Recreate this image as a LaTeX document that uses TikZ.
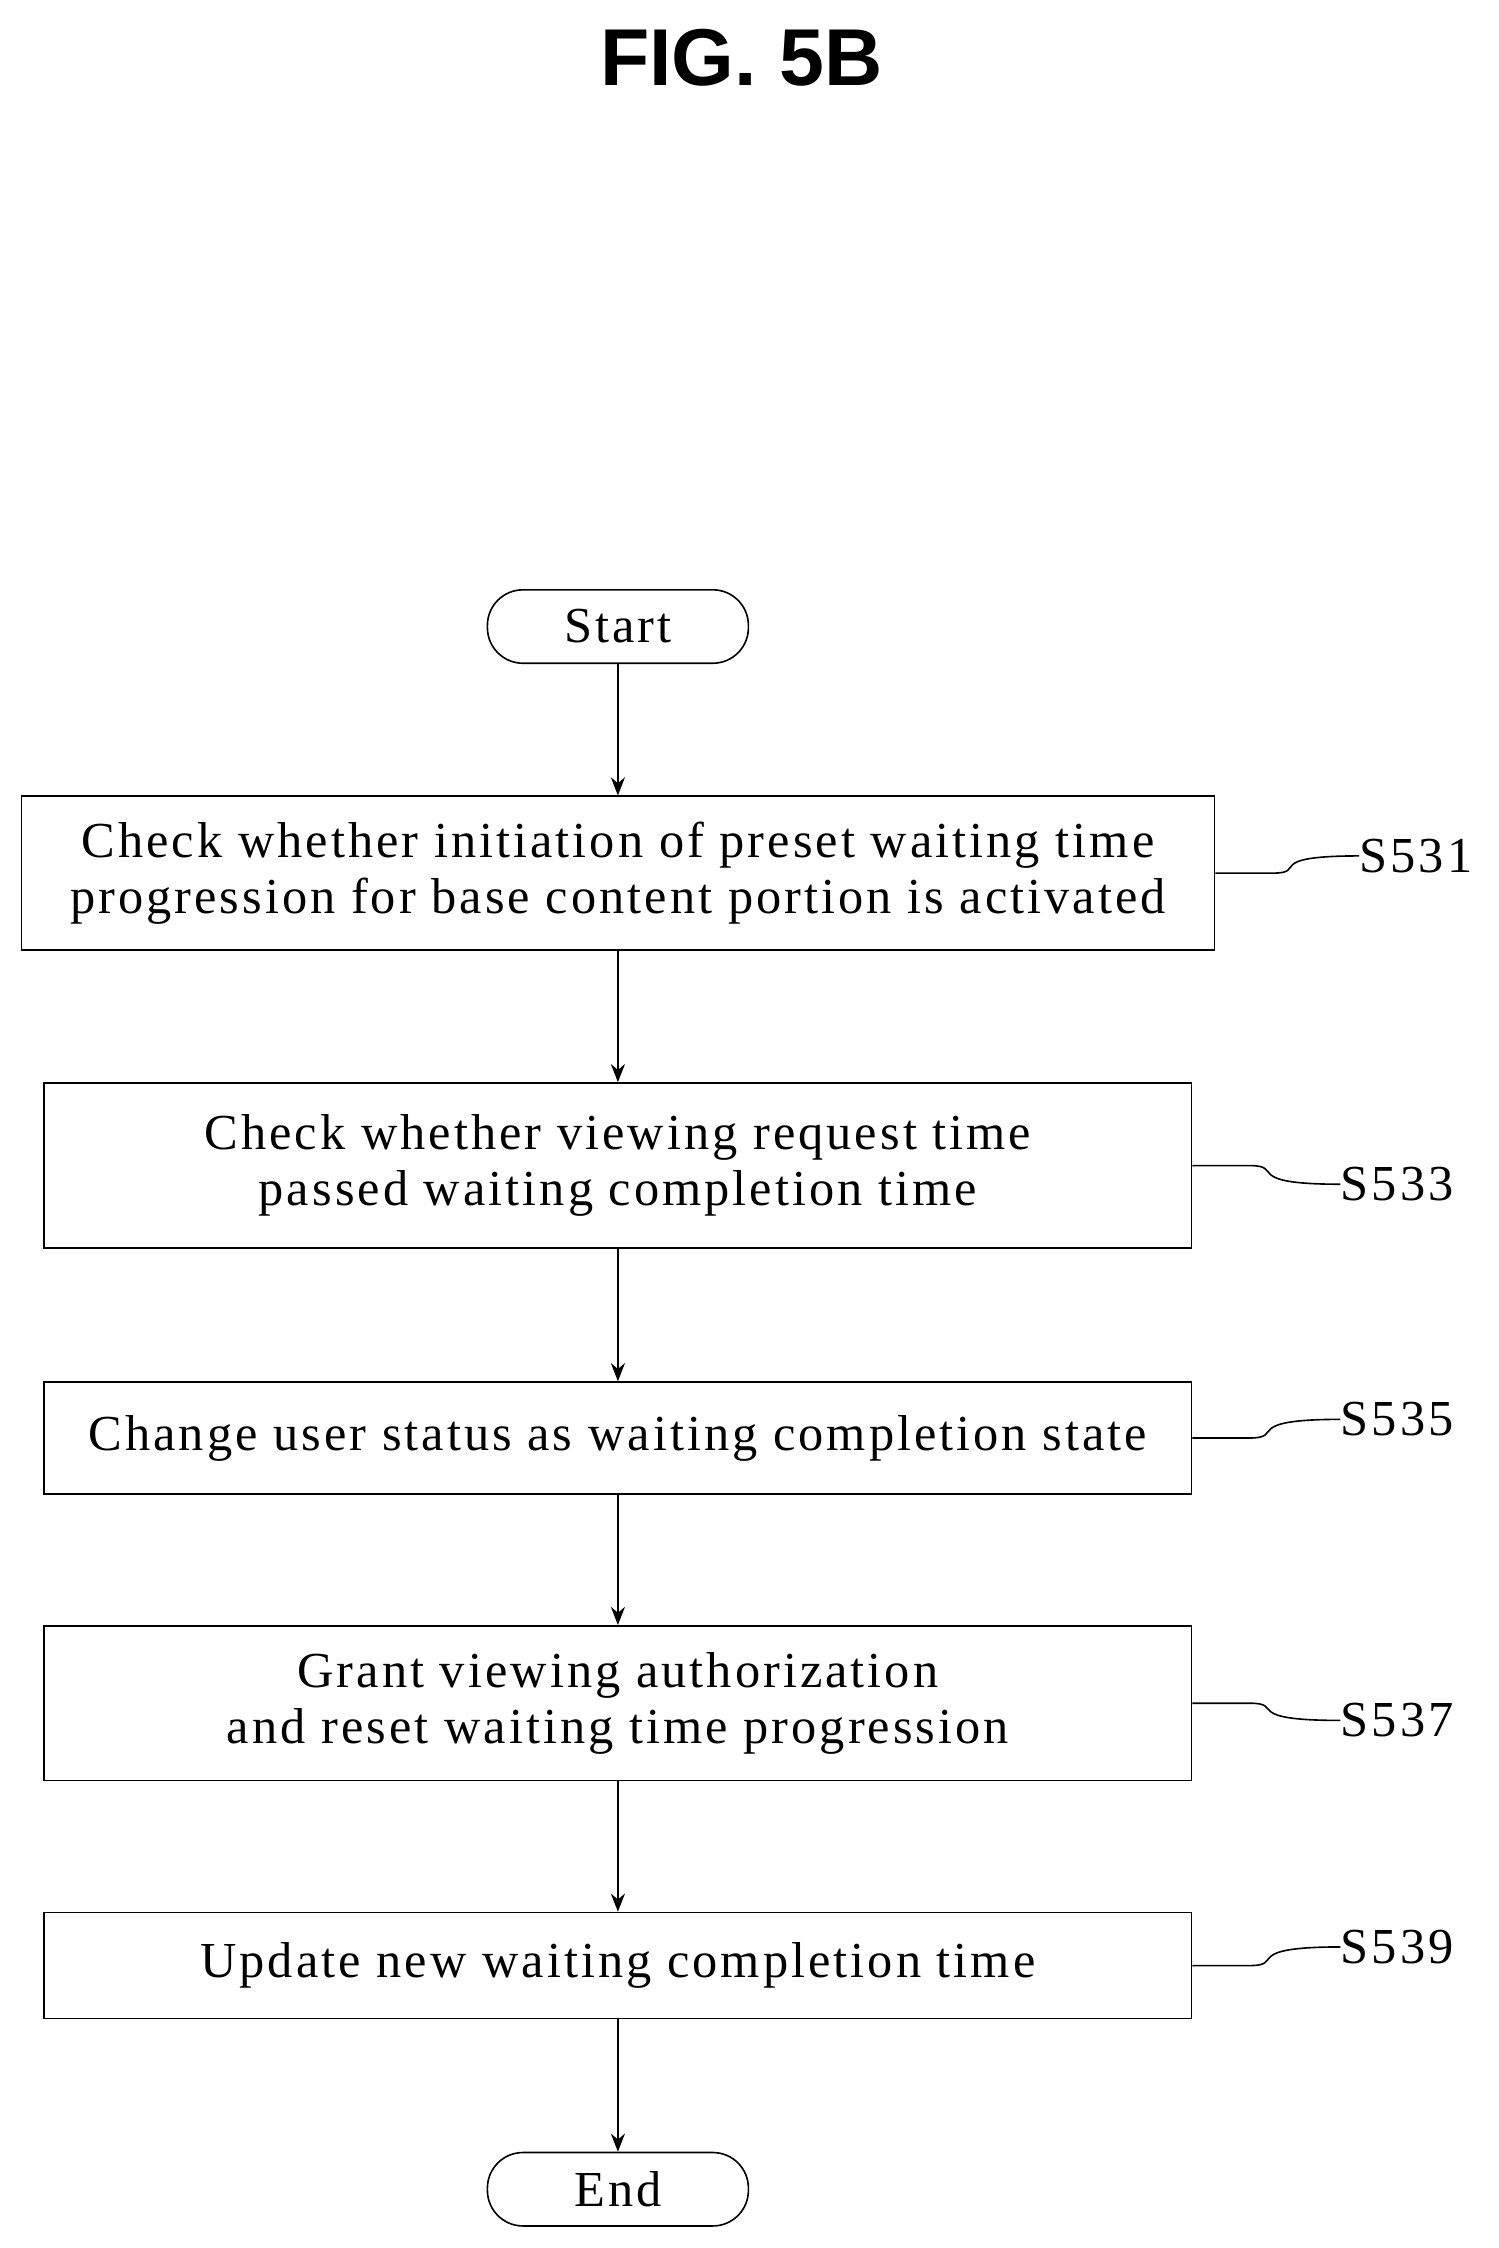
\documentclass[tikz,border=0pt]{standalone}
\usepackage{fontspec}
\setmainfont{Liberation Serif}[LetterSpace=6]
\newfontfamily\titlefont{Liberation Sans}
\usetikzlibrary{positioning,arrows.meta}
\tikzset{
  step/.style={draw, thick, minimum height=#1, align=center, font=\fontsize{25}{28}\selectfont},
  term/.style={draw, thick, rounded corners=0.62cm, minimum width=4.55cm, minimum height=1.28cm, font=\fontsize{25}{28}\selectfont},
  flow/.style={thick, -{Stealth[length=9pt,width=7pt]}},
  tag/.style={font=\fontsize{25}{28}\selectfont, anchor=west, inner sep=0pt}
}
\begin{document}
\begin{tikzpicture}[x=0.025cm, y=-0.025cm]
    \useasboundingbox (0,0) rectangle (1045,1568);
    \node[font=\titlefont\bfseries\fontsize{40}{44}\selectfont] (title) at (517,40) {FIG.\ 5B};

    % steps
    \node[term] (start) at (431,437) {Start};
    \node[step=2.68cm, minimum width=20.8cm] (s531) at (431,609)
      {Check whether initiation of preset waiting time\\progression for base content portion is activated};
    \node[step=2.88cm, minimum width=20cm] (s533) at (431,813)
      {Check whether viewing request time\\passed waiting completion time};
    \node[step=1.95cm, minimum width=20cm] (s535) at (431,1003)
      {Change user status as waiting completion state};
    \node[step=2.7cm, minimum width=20cm] (s537) at (431,1188)
      {Grant viewing authorization\\and reset waiting time progression};
    \node[step=1.85cm, minimum width=20cm] (s539) at (431,1371)
      {Update new waiting completion time};
    \node[term] (end) at (431,1527) {End};

    \draw[flow] (start) -- (s531);
    \draw[flow] (s531) -- (s533);
    \draw[flow] (s533) -- (s535);
    \draw[flow] (s535) -- (s537);
    \draw[flow] (s537) -- (s539);
    \draw[flow] (s539) -- (end);

    % labels
    \node[tag] (l531) at (948,597) {S531};
    \node[tag] (l533) at (935,826) {S533};
    \node[tag] (l535) at (935,990) {S535};
    \node[tag] (l537) at (935,1200) {S537};
    \node[tag] (l539) at (935,1358) {S539};

    \draw[thick] (s531.east) -- ++(40,0) .. controls +(25,0) and (880,597) .. (l531.west);
    \draw[thick] (s533.east) -- ++(40,0) .. controls +(25,0) and (865,826) .. (l533.west);
    \draw[thick] (s535.east) -- ++(40,0) .. controls +(25,0) and (865,990) .. (l535.west);
    \draw[thick] (s537.east) -- ++(40,0) .. controls +(25,0) and (865,1200) .. (l537.west);
    \draw[thick] (s539.east) -- ++(40,0) .. controls +(25,0) and (865,1358) .. (l539.west);
\end{tikzpicture}
\end{document}
